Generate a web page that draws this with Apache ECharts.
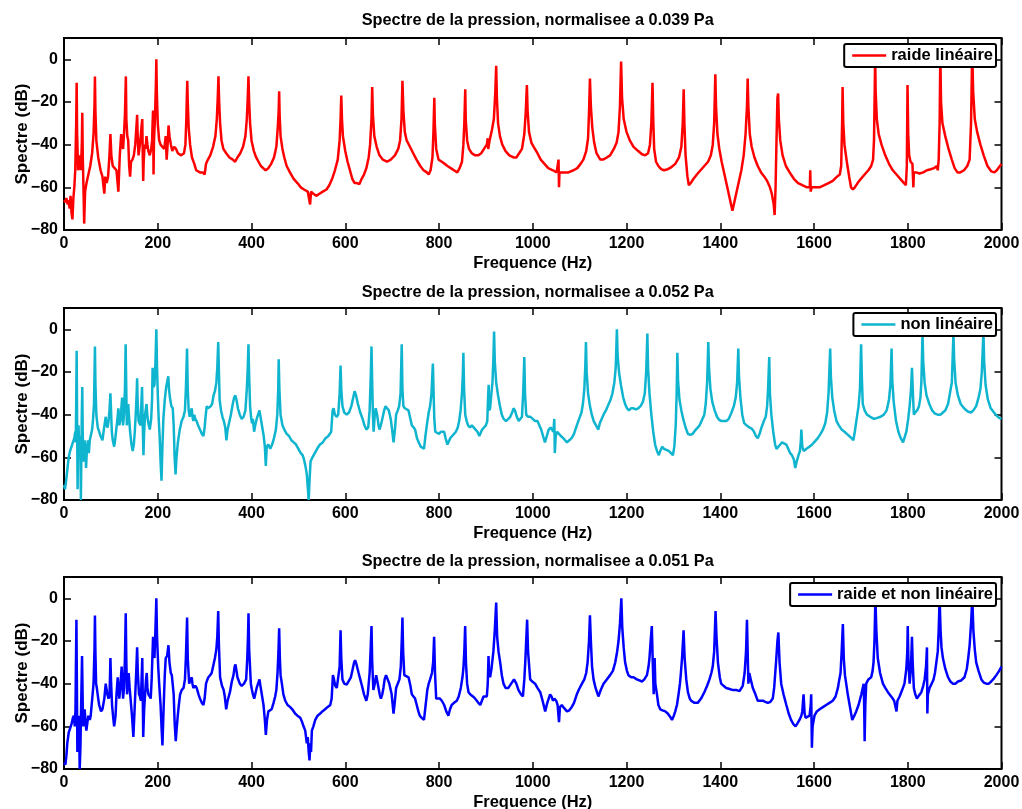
<!DOCTYPE html>
<html>
<head>
<meta charset="utf-8">
<script src="https://cdn.jsdelivr.net/npm/echarts@6/dist/echarts.min.js"></script>
<style>
html,body{margin:0;padding:0;background:#fff;}
#chart{width:1022px;height:809px;}
</style>
</head>
<body>
<div id="chart"></div>
<script>
// ---- Data (frequency Hz, spectrum dB) ----
const titles = [
  "Spectre de la pression, normalisee a 0.039 Pa",
  "Spectre de la pression, normalisee a 0.052 Pa",
  "Spectre de la pression, normalisee a 0.051 Pa"
];
const seriesNames = ["raide linéaire", "non linéaire", "raide et non linéaire"];
const xTicks = [0, 200, 400, 600, 800, 1000, 1200, 1400, 1600, 1800, 2000];
const yTicks = [-80, -60, -40, -20, 0];

const raideLineaire = [
[0,-66],[3,-67],[5,-65],[8,-68],[10,-66],[12,-70],[14,-64],[16,-72],[18,-75],[20,-65],[22,-60],[24,-52],[26,-30],[27,-11],[28,-35],[30,-52],[32,-50],[34,-45],[36,-52],[38,-40],[39,-25],[40,-45],[42,-65],[43,-77],[45,-62],[48,-58],[52,-54],[56,-50],[60,-44],[63,-35],[65,-22],[66,-8],[67,-24],[69,-38],[73,-46],[78,-52],[82,-55],[86,-63],[88,-55],[91,-58],[94,-55],[97,-45],[99,-35],[101,-45],[104,-50],[108,-51],[112,-52],[116,-62],[119,-45],[122,-35],[124,-40],[126,-42],[128,-35],[130,-26],[132,-8],[133,-28],[135,-36],[137,-38],[139,-50],[141,-55],[143,-48],[146,-47],[149,-45],[152,-40],[155,-30],[156,-26],[157,-35],[159,-45],[162,-40],[164,-35],[166,-30],[167,-28],[168,-45],[169,-57],[170,-48],[172,-40],[174,-42],[176,-36],[178,-40],[180,-43],[183,-45],[186,-42],[188,-38],[189,-30],[190,-24],[191,-54],[192,-38],[194,-28],[196,-12],[197,0],[198,-15],[200,-30],[203,-38],[206,-40],[210,-41],[214,-42],[217,-36],[219,-47],[221,-40],[223,-31],[225,-36],[228,-40],[231,-43],[235,-41],[239,-42],[243,-44],[250,-45],[256,-44],[259,-40],[261,-28],[262,-18],[263,-10],[264,-20],[266,-32],[269,-40],[273,-46],[278,-49],[282,-52],[290,-53],[296,-53],[300,-54],[303,-49],[307,-47],[312,-45],[318,-41],[323,-36],[326,-28],[328,-18],[329.5,-8],[331,-20],[333,-30],[336,-38],[340,-42],[346,-44],[353,-46],[360,-47],[365,-48],[370,-46],[376,-44],[382,-41],[387,-36],[390,-28],[392,-18],[393.5,-8],[395,-20],[397,-30],[400,-38],[405,-43],[410,-46],[415,-48],[420,-50],[425,-51],[430,-52],[436,-51],[442,-49],[448,-46],[453,-41],[456,-32],[458,-24],[459,-15],[460,-26],[462,-36],[466,-42],[470,-46],[475,-50],[482,-53],[490,-56],[498,-58],[505,-60],[512,-61],[520,-62],[523,-62],[525,-68],[527,-62],[532,-63],[538,-64],[545,-63],[552,-62],[560,-61],[566,-59],[572,-56],[578,-52],[584,-47],[588,-38],[590,-28],[591.5,-17],[593,-28],[595,-36],[600,-43],[605,-48],[610,-52],[615,-56],[620,-58],[625,-58],[630,-58.5],[635,-56],[640,-54],[645,-51],[650,-46],[653,-40],[656,-28],[657.5,-13],[659,-26],[662,-36],[667,-41],[673,-45],[680,-47],[689,-48],[697,-47],[706,-45],[713,-42],[717,-38],[720,-28],[722,-10],[724,-24],[727,-34],[731,-38],[738,-41],[745,-44],[752,-47],[760,-50],[767,-52],[774,-53],[778,-54],[782,-52],[786,-46],[788,-35],[790,-18],[791,-30],[794,-42],[799,-47],[806,-48],[812,-49],[818,-50],[825,-51],[832,-52],[839,-53],[844,-51],[849,-48],[852,-40],[854,-30],[856,-14],[857,-28],[860,-38],[864,-42],[870,-44],[877,-45],[884,-45],[890,-44],[896,-42],[902,-40],[904,-37],[905,-42],[908,-38],[913,-33],[917,-28],[920,-16],[922,-3],[923.5,-18],[926,-30],[930,-36],[935,-40],[942,-43],[950,-45],[959,-46],[965,-46],[971,-44],[977,-42],[982,-35],[985,-25],[987.5,-12],[989,-24],[992,-34],[997,-39],[1002,-41],[1010,-44],[1017,-47],[1025,-49],[1033,-51],[1043,-52],[1051,-53],[1054,-53],[1055,-47],[1056,-60],[1057,-53],[1066,-53],[1076,-53],[1087,-52],[1095,-51],[1102,-49],[1108,-47],[1114,-43],[1118,-37],[1120,-25],[1122,-9],[1124,-22],[1127,-32],[1131,-39],[1136,-44],[1144,-47],[1150,-47],[1158,-46],[1165,-45],[1173,-42],[1179,-39],[1183,-34],[1186,-22],[1188.5,-1],[1190.5,-18],[1194,-28],[1200,-34],[1207,-38],[1215,-41],[1225,-43],[1233,-44.5],[1240,-45],[1246,-44],[1250,-40],[1253,-30],[1255.5,-11],[1257,-28],[1259,-42],[1263,-48],[1268,-50],[1274,-51.5],[1280,-52],[1288,-51.5],[1296,-50.5],[1304,-49],[1312,-46],[1317,-41],[1320,-30],[1322,-14],[1323.5,-30],[1326,-45],[1330,-55],[1333,-59],[1337,-58],[1343,-56],[1350,-54],[1358,-52],[1366,-50],[1374,-48],[1380,-45],[1384,-40],[1387,-30],[1389.5,-7],[1391,-22],[1394,-35],[1398,-42],[1403,-48],[1409,-54],[1415,-60],[1420,-65],[1426,-71],[1430,-67],[1435,-62],[1440,-57],[1445,-52],[1450,-45],[1454,-35],[1457,-22],[1458.5,-9],[1460,-22],[1463,-35],[1467,-41],[1473,-46],[1480,-50],[1487,-53],[1494,-55],[1500,-57],[1506,-60],[1510,-63],[1514,-68],[1516,-73],[1518,-60],[1520,-38],[1522,-18],[1523.5,-16],[1525,-28],[1528,-38],[1533,-45],[1540,-50],[1548,-53],[1557,-56],[1566,-58],[1575,-59],[1585,-60],[1591,-60],[1592,-52],[1593,-62],[1595,-60],[1603,-60],[1612,-60],[1622,-59],[1631,-58],[1640,-57],[1649,-55],[1655,-54],[1658,-50],[1660,-30],[1661,-13],[1662.5,-30],[1665,-40],[1670,-48],[1675,-55],[1679,-60],[1683,-61],[1687,-60],[1693,-58],[1700,-56],[1708,-54],[1716,-52],[1722,-50],[1726,-47],[1728,-38],[1729.5,-15],[1730.5,2],[1731.5,-15],[1734,-28],[1738,-35],[1744,-40],[1752,-45],[1760,-49],[1768,-52],[1776,-54],[1784,-56],[1792,-58],[1796,-59],[1798,-50],[1799.5,-12],[1801,-35],[1803,-45],[1806,-48],[1810,-49],[1812,-60],[1813,-53],[1818,-53],[1825,-53.5],[1833,-53],[1841,-52],[1849,-51.5],[1856,-51],[1862,-50],[1864,-52],[1866,-47],[1868,-30],[1869.5,3],[1871,-20],[1874,-30],[1880,-36],[1887,-42],[1894,-47],[1900,-51],[1906,-53],[1912,-53],[1920,-52],[1927,-50],[1932,-47],[1935,-30],[1937.5,4],[1939.5,-15],[1943,-28],[1948,-34],[1955,-40],[1962,-45],[1970,-50],[1978,-52.5],[1985,-53],[1990,-52],[1995,-50.5],[2000,-49]
];

const nonLineaire = [
[0,-73],[2,-75],[4,-72],[7,-66],[10,-60],[13,-57],[16,-55],[19,-53],[22,-51],[24,-48],[25,-53],[26,-35],[27,-10],[28,-45],[29,-75],[30,-55],[31,-45],[32,-52],[33,-60],[34,-50],[35,-55],[36,-80],[37,-60],[38,-40],[39,-27],[40,-50],[42,-62],[44,-52],[46,-58],[47,-65],[49,-56],[51,-52],[53,-58],[55,-52],[57,-50],[60,-47],[62,-42],[64,-35],[65,-22],[66,-8],[67,-25],[69,-40],[72,-46],[75,-48],[78,-50],[82,-52],[85,-47],[87,-44],[89,-41],[91,-45],[93,-46],[95,-43],[97,-38],[99,-30],[100,-36],[102,-48],[104,-52],[107,-55],[109,-52],[112,-46],[114,-42],[116,-37],[118,-45],[120,-43],[122,-38],[124,-32],[126,-45],[128,-40],[130,-28],[131.5,-7],[133,-30],[134,-45],[136,-38],[137,-35],[139,-42],[141,-48],[144,-54],[146.5,-57],[149,-54],[151,-48],[153,-40],[155,-30],[156,-23],[157,-33],[159,-43],[161,-44],[163,-45],[165,-35],[166.5,-27],[168,-45],[169.5,-59],[171,-48],[173,-40],[176,-35],[178,-41],[180,-44],[183,-47],[186,-42],[188,-32],[189,-18],[191,-27],[193,-26],[195,-16],[197,0],[198.5,-18],[200,-30],[202,-42],[204,-50],[206,-62],[208,-71],[210,-55],[212,-42],[215,-33],[218,-27],[220,-27],[222.5,-22],[224,-28],[226,-32],[229,-36],[232,-37],[234,-45],[236,-60],[238,-68],[240,-60],[243,-53],[247,-47],[251,-43],[255,-41],[258,-38],[260,-28],[262.5,-9],[264,-28],[266,-38],[268,-41],[270,-39],[272.5,-37],[274,-41],[276,-43],[278,-40],[280,-42],[283,-43],[286,-45],[290,-47],[294,-49],[297.5,-50],[300,-46],[302,-41],[304.5,-36],[307,-37],[310,-37],[313,-36],[316,-35],[319,-31],[322,-29],[325,-25],[327,-18],[329,-6],[330.5,-20],[332,-33],[335,-38],[338,-41],[341,-43],[344,-46],[346.5,-52],[349,-47],[352,-44],[356,-40],[360,-35],[363,-32],[365.5,-31],[368,-33],[371,-37],[375,-40],[379,-42],[383,-41],[387,-38],[390,-28],[392,-18],[393.5,-7],[395,-22],[397,-36],[399,-41],[401,-44],[403,-42],[405.5,-48],[408,-45],[411,-42],[414,-40],[417,-38],[420,-42],[423,-46],[426,-50],[428.5,-55],[430.5,-64],[432.5,-55],[436,-54],[440,-56],[444,-54],[448,-51],[452,-47],[455,-40],[457,-28],[458,-14],[459.5,-28],[462,-40],[466,-45],[470,-47],[475,-49],[480,-50],[485,-52],[490,-53],[495,-54],[500,-56],[505,-58],[509,-59],[512,-61],[515,-64],[518,-68],[520,-74],[522,-80],[524,-70],[526,-62],[530,-60],[535,-58],[540,-56],[546,-54],[552,-53],[558,-51],[564,-50],[570,-48],[573,-38],[575,-37],[578,-40],[582,-41],[585,-40],[588,-30],[590,-17],[591.5,-28],[594,-36],[598,-39],[603,-40],[608,-39],[613,-36],[617,-32],[620,-29],[623,-31],[627,-35],[632,-39],[637,-42],[641,-45],[645,-47],[649,-46],[652,-38],[654,-25],[656,-8],[657.5,-25],[659,-40],[660.5,-48],[663,-40],[665,-37],[668,-40],[671,-45],[673,-47],[676,-45],[679,-42],[683,-38],[686,-36],[689,-37],[693,-38],[697,-42],[700,-47],[703,-53],[706,-47],[708.5,-40],[712,-38],[715,-36],[718,-30],[720.5,-7],[722,-28],[724,-36],[727,-37],[731,-37],[735,-38],[739,-42],[742,-45],[746,-46],[749,-47],[753,-51],[757,-53],[761,-55],[765,-55],[768,-56],[771,-50],[774,-45],[778,-39],[781,-36],[784,-30],[786,-20],[787,-16],[788.5,-30],[790,-42],[792,-48],[796,-48],[800,-49],[804,-48],[808,-48],[811,-48],[814,-51],[818,-54],[821,-54],[824,-51],[828,-50],[832,-49],[836,-48],[840,-46],[843,-43],[846,-38],[849,-30],[851,-20],[852,-11],[853.5,-28],[856,-40],[859,-43],[862,-45],[866,-46],[870,-45],[874,-45],[878,-47],[882,-48],[886,-50],[889,-50],[892,-47],[896,-46],[900,-45],[903,-43],[905,-30],[906,-26],[907,-38],[909,-37],[911,-32],[914,-25],[916,-14],[917.5,-1],[919,-15],[922,-25],[926,-31],[930,-36],[934,-40],[938,-42],[943,-43],[948,-42],[952,-41],[956,-39],[959,-37],[962,-38],[966,-41],[970,-43],[974,-43],[977,-41],[979.5,-30],[981,-20],[982,-13],[983.5,-30],[986,-40],[990,-41],[995,-41],[1000,-42],[1005,-43],[1010,-43],[1014,-45],[1018,-47],[1022,-50],[1026,-53],[1030,-50],[1034,-47],[1038,-46],[1041,-47],[1044,-48],[1046,-42],[1047,-58],[1049,-50],[1052,-48],[1056,-49],[1060,-50],[1065,-51],[1069,-52],[1073,-53],[1078,-52],[1083,-51],[1088,-49],[1094,-45],[1099,-42],[1104,-39],[1107,-35],[1110,-28],[1112,-18],[1113.5,-6],[1115,-20],[1118,-30],[1122,-36],[1126,-40],[1130,-43],[1135,-45],[1140,-47],[1143,-44],[1147,-42],[1151,-40],[1156,-38],[1162,-35],[1166,-33],[1170,-30],[1174,-25],[1177,-18],[1179.5,0],[1181,-12],[1184,-20],[1188,-26],[1193,-32],[1197,-35],[1201,-37],[1205,-38],[1210,-37],[1215,-37],[1220,-37.5],[1225,-37],[1230,-36],[1235,-34],[1239,-30],[1242,-20],[1244.5,-2],[1246,-18],[1249,-30],[1253,-40],[1257,-48],[1261,-54],[1265,-57],[1269,-59],[1272,-57],[1276,-55],[1280,-56],[1285,-56.5],[1290,-57],[1295,-58],[1299,-59],[1302,-55],[1305,-45],[1307,-30],[1308.5,-11],[1310,-24],[1313,-33],[1317,-38],[1321,-42],[1326,-46],[1331,-49],[1336,-49.5],[1341,-49],[1348,-47],[1356,-45],[1362,-42],[1366,-40],[1369,-35],[1372,-25],[1374.5,-6],[1376,-18],[1379,-28],[1383,-34],[1388,-38],[1393,-41],[1398,-42.5],[1403,-43],[1408,-43],[1413,-43],[1418,-42],[1424,-39],[1429,-36],[1433,-32],[1436,-25],[1438.5,-9],[1440,-22],[1443,-32],[1447,-40],[1451,-44],[1456,-45],[1462,-46],[1467,-46.5],[1472,-48],[1476,-50],[1480,-51],[1484,-49],[1488,-46],[1493,-43],[1497,-41],[1500,-36],[1502,-28],[1504.5,-13],[1506,-30],[1509,-40],[1513,-48],[1517,-54],[1520,-56],[1524,-56],[1528,-54],[1532,-53],[1536,-53.5],[1541,-54],[1545,-56],[1549,-58],[1553,-59],[1557,-61],[1560,-65],[1563,-62],[1567,-59],[1570,-57],[1572,-52],[1573,-47],[1575,-55],[1578,-57],[1584,-56],[1590,-55],[1596,-54],[1602,-52.5],[1608,-51],[1614,-49],[1619,-47],[1624,-44],[1628,-39],[1631,-30],[1634.5,-9],[1636,-22],[1639,-32],[1643,-38],[1648,-43],[1653,-45],[1659,-47],[1665,-48],[1670,-49],[1675,-50],[1680,-51],[1684,-52],[1687,-48],[1691,-42],[1695,-36],[1698,-28],[1700.5,-7],[1702,-22],[1704,-35],[1708,-38],[1713,-40],[1720,-41],[1728,-42],[1735,-41.5],[1742,-41],[1749,-40],[1755,-38],[1760,-33],[1763,-26],[1765.5,-9],[1767,-24],[1770,-34],[1775,-43],[1780,-48],[1785,-51],[1790,-53],[1794,-53],[1797,-48],[1801,-42],[1804,-36],[1807,-28],[1809,-18],[1811,-30],[1813,-40],[1816,-39],[1820,-38],[1824,-36],[1827,-32],[1829,-25],[1831.5,-2],[1833,-15],[1836,-25],[1840,-31],[1846,-35],[1852,-38],[1858,-39.5],[1864,-40],[1870,-40],[1875,-39],[1880,-38],[1886,-35],[1890,-30],[1894,-25],[1897.5,-2],[1899,-14],[1902,-25],[1907,-31],[1913,-35],[1920,-37],[1928,-38.5],[1935,-39],[1940,-38],[1946,-36],[1951,-32],[1955,-28],[1958,-20],[1961.5,-1],[1963,-15],[1966,-26],[1971,-33],[1977,-37],[1984,-39],[1990,-40.5],[1995,-41.5],[2000,-42]
];

const raideNonLineaire = [
[0,-77],[3,-78],[5,-74],[7,-68],[10,-63],[13,-61],[16,-59],[19,-56],[21,-55],[23,-60],[24.5,-52],[25.5,-30],[26.5,-10],[27.5,-40],[28.5,-72],[30,-58],[31,-55],[32.5,-65],[33.5,-80],[35,-70],[37,-45],[38.5,-27],[40,-50],[41,-60],[43,-55],[44,-52],[46,-58],[47.7,-62],[50,-58],[52,-55],[55,-57],[57,-55],[59,-50],[61,-45],[63,-40],[65,-24],[66,-8],[67,-25],[68.5,-40],[70,-42],[73,-47],[75,-50],[79,-53],[82,-52],[84,-52],[86,-47],[89,-40],[91,-43],[92.5,-45],[95,-47],[97,-46],[98,-38],[99,-28],[100.5,-40],[102.5,-50],[105,-56],[107,-60],[110,-55],[112,-45],[114.6,-37],[116,-42],[118,-47],[120,-42],[123,-32],[124.5,-40],[126,-47],[128,-42],[130,-28],[131.7,-7],[133,-30],[134.5,-45],[136,-40],[138,-35],[140,-42],[142,-47],[145,-55],[148,-65],[150,-55],[152,-45],[154,-35],[156,-23],[157.5,-35],[160,-45],[162,-46],[164,-48],[165.5,-38],[167,-28],[168,-45],[169,-65],[171,-52],[173,-45],[175,-38],[176.5,-35],[178,-42],[180,-45],[183,-46],[185,-47],[187,-38],[190,-18],[191.5,-25],[193,-28],[195,-15],[197,0],[198.5,-18],[201,-32],[203,-40],[206,-50],[208,-60],[210,-69],[212,-55],[213.5,-45],[215,-36],[217,-28],[220,-27],[222.8,-22],[225,-30],[227.8,-35],[230,-36],[232,-36],[234,-45],[236,-58],[238.4,-67],[240,-62],[242.7,-55],[245,-50],[247.7,-45],[251,-43],[255,-42],[258,-38],[260,-28],[262.6,-9],[264,-28],[267,-40],[270,-38],[272.6,-37],[274,-40],[276,-42],[280,-41],[283,-42],[287,-45],[290,-47],[294,-49],[297.5,-50],[300,-47],[303,-40],[306,-38],[308,-37],[312,-36],[315,-35],[319,-31],[322,-28],[325,-24],[327,-18],[329,-6],[330.5,-22],[333,-37],[337,-41],[340.6,-43],[343,-46],[346,-52],[349,-48],[354,-44],[358,-39],[361.6,-36],[364,-32],[365.8,-31],[368,-34],[370,-37],[375,-40],[379,-41],[384,-40],[388.6,-38],[391,-28],[392.5,-18],[393.6,-7],[395,-24],[398.6,-40],[401,-43],[403,-45],[405.7,-47],[408,-45],[411,-42],[414,-40],[417,-38],[419,-41],[422,-45],[425.6,-50],[428.5,-57],[430.6,-64],[433,-57],[436,-53],[440,-53],[443,-52],[447,-49],[450.5,-46],[453,-43],[455.5,-35],[457.5,-25],[459,-14],[460.5,-28],[462,-36],[464.8,-40],[468,-45],[472,-48],[477,-50],[482.6,-51],[487,-52],[493,-54],[498,-55],[504,-56],[508,-58],[511,-60],[514.6,-62],[518,-68],[520,-65],[522,-72],[523.8,-76],[525.5,-68],[527,-72],[528.8,-62],[532,-60],[536,-57],[541,-55],[546.6,-54],[551,-53],[557,-52],[562,-51],[568,-50],[571,-47],[573.7,-36],[576,-38],[578.6,-41],[582,-42],[585.8,-42],[588,-32],[590,-15],[591.5,-28],[594,-38],[598,-40],[603,-40.5],[607,-40],[612,-37],[616,-33],[619,-30],[621,-29],[624,-31],[628.5,-35],[632,-38],[635.6,-41],[640,-45],[645,-48],[648,-45],[650,-40],[652,-35],[654,-25],[656,-13],[657.5,-30],[660,-43],[663,-40],[666,-36],[668.5,-39],[671,-42],[673.5,-45],[676,-47],[679,-45],[681.5,-42],[684,-38],[687,-36],[690.5,-38],[694,-40],[697,-43],[699,-45],[703,-54],[706,-48],[708.5,-42],[712,-40],[715.6,-38],[718.5,-32],[720.5,-20],[722,-9],[723.5,-25],[726,-36],[730,-36.5],[735,-37],[739,-41],[742,-45],[745.5,-46],[749,-47],[752.5,-50],[756,-53],[759,-55],[763,-56],[768,-57],[771.5,-50],[775,-43],[778,-40],[781,-38],[785,-35],[787.5,-30],[789.6,-18],[791.5,-35],[794,-47],[798,-47],[802,-47],[806,-48],[811,-50],[815.5,-53],[820,-55],[823.5,-52],[827,-50],[832,-49],[838,-48],[842,-46],[846.5,-42],[850,-37],[852,-33],[854,-25],[855.8,-13],[857.5,-30],[860,-40],[863,-44],[866.5,-45],[870,-45],[875,-46.5],[880.7,-48],[884,-49],[888,-50],[891.5,-48],[895,-46],[898.5,-46],[902,-46],[904,-40],[905.6,-27],[907,-35],[909,-37],[912,-33],[916,-25],[919,-15],[922,-2],[924,-18],[927,-25],[930.5,-30],[934,-36],[937.6,-40],[942,-42],[948,-42],[954,-40],[960,-38],[965,-40],[969.6,-43],[975,-45],[979,-46],[982,-38],[984,-30],[986,-20],[988,-10],[990,-25],[994.5,-38],[999,-39],[1005,-40],[1010,-42],[1016,-44],[1021,-48],[1026.5,-53],[1031,-49],[1037,-45],[1040,-46],[1043,-48],[1046,-47],[1050,-48],[1053,-50],[1056,-58],[1058,-51],[1062,-50],[1067,-51.5],[1073,-53],[1078,-52.5],[1083,-51],[1088,-49],[1094,-45],[1099,-42.5],[1105,-40],[1110,-38],[1114,-35],[1117,-30],[1120,-20],[1122,-8],[1124,-20],[1126.5,-32],[1129.7,-38],[1134,-42],[1140,-46],[1145,-43],[1151,-40],[1158,-38],[1165,-36],[1171,-34],[1176,-30],[1180,-25],[1183,-20],[1186,-12],[1189,0],[1191,-14],[1194,-23],[1197,-30],[1201,-34],[1204,-36],[1210,-37],[1215,-37],[1222,-38],[1228,-38.5],[1233,-39],[1238,-38],[1243.6,-36],[1247,-32],[1249,-28],[1251.5,-20],[1254,-13],[1256,-30],[1258,-45],[1259,-38],[1260,-28],[1261.5,-40],[1265,-45],[1268,-50],[1272,-52],[1277,-52.5],[1282.7,-53],[1288,-54],[1293,-55.5],[1297,-57],[1301,-55],[1304,-53],[1307.6,-50],[1311,-45],[1314,-40],[1316,-35],[1318.5,-28],[1321.8,-15],[1324,-28],[1327.5,-38],[1331,-44],[1335,-47],[1338,-48],[1345,-49],[1352,-49],[1359,-47],[1366,-44],[1372,-41],[1377,-38],[1381,-35],[1384,-32],[1387,-25],[1390,-6],[1392,-18],[1395,-30],[1399,-37],[1402,-40],[1407,-41],[1412.6,-42],[1420,-42.5],[1427,-43],[1435,-43],[1441,-43.5],[1444.6,-44],[1448,-41],[1452,-35],[1455,-25],[1457,-10],[1459,-30],[1460,-40],[1462,-35],[1465,-38],[1469.5,-42],[1475,-45],[1480,-48],[1485,-48],[1491,-48],[1496,-48.5],[1501.5,-49],[1507,-48.5],[1512,-47],[1515,-42],[1519,-30],[1522,-20],[1524,-16],[1526.5,-30],[1530,-40],[1535,-45],[1541,-50],[1546,-54],[1551,-57],[1556,-59],[1560.6,-60],[1565,-58.5],[1569,-57],[1573,-55],[1575,-53],[1577.7,-45],[1580,-54],[1582,-56],[1586,-55.5],[1590.5,-55],[1593,-50],[1594,-45],[1595.5,-70],[1597,-60],[1601,-55],[1606,-53],[1612,-52],[1619,-51],[1626,-50],[1633,-49],[1640,-48],[1646,-46],[1651,-42],[1654,-38],[1656.6,-35],[1659,-25],[1661.6,-12],[1663.5,-28],[1666,-36],[1668.7,-40],[1672,-45],[1676,-50],[1681.6,-57],[1686,-55],[1690,-53],[1695,-50],[1701,-45],[1706,-40],[1707,-50],[1708,-67],[1709.5,-50],[1711.4,-40],[1716,-38],[1722,-37],[1725,-34],[1727,-30],[1729,-20],[1731,0],[1733,-15],[1736,-28],[1741,-35],[1747,-40],[1752,-42],[1757.7,-44],[1763,-45.5],[1768,-47],[1771,-48],[1774,-51],[1776,-53],[1778,-48],[1782.6,-46],[1788,-43],[1793,-40],[1797,-33],[1799,-25],[1800,-13],[1801.5,-30],[1804,-40],[1806,-35],[1808,-25],[1809,-18],[1810.5,-30],[1813,-42],[1816,-45],[1819.6,-47],[1824,-45.5],[1829,-44],[1833,-41],[1836,-38],[1839,-32],[1841,-23],[1841.8,-54],[1843,-45],[1846.6,-42],[1851,-40],[1855,-38],[1858,-35],[1861,-30],[1864,-25],[1866,-15],[1868,0],[1870,-15],[1872,-23],[1875,-28],[1880,-33],[1886,-37],[1891,-39],[1896,-40],[1902,-40],[1907,-39],[1914,-38.5],[1921,-37],[1926,-33],[1929,-28],[1932,-22],[1935,-12],[1937.7,0],[1940,-15],[1943,-24],[1946,-30],[1951,-34],[1957,-38],[1962,-39.5],[1967.6,-40],[1973,-40],[1978,-39],[1984,-37.5],[1989,-36],[1995,-34],[2000,-32]
];

const seriesData = [raideLineaire, nonLineaire, raideNonLineaire];
const colors = ["#ff0000", "#0fb4cf", "#0000ff"];

// ---- Layout ----
const FONT = "Liberation Sans, Arial, Helvetica, sans-serif";
const gridTops = [38, 308, 577];
const gridH = 192;
const gridLeft = 64, gridW = 937.5;
const legendTops = [44, 313, 583];
const titleTops = [8, 280, 549];

const minus = v => String(v).replace('-', '\u2212');
const plain = v => String(v);

const option = {
  animation: false,
  backgroundColor: '#fff',
  title: titles.map((t, i) => ({
    text: t, left: gridLeft + gridW / 2, top: titleTops[i], textAlign: 'center',
    textStyle: { fontFamily: FONT, fontWeight: 'bold', fontSize: 16.3, color: '#000' }
  })),
  legend: seriesNames.map((n, i) => ({
    data: [{ name: n, icon: 'rect' }],
    right: 26, top: legendTops[i],
    orient: 'vertical',
    itemWidth: 34, itemHeight: 2.5,
    padding: [3, 3, 3, 8],
    backgroundColor: '#fff', borderColor: '#000', borderWidth: 2, borderRadius: 2,
    textStyle: { fontFamily: FONT, fontWeight: 'bold', fontSize: 16.5, color: '#000' },
    selectedMode: false
  })),
  grid: gridTops.map(t => ({
    left: gridLeft, top: t, width: gridW, height: gridH,
    show: true, borderColor: '#000', borderWidth: 2, backgroundColor: 'transparent',
    containLabel: false, outerBoundsMode: 'none'
  })),
  xAxis: [],
  yAxis: [],
  series: []
};

const tickStyle = { show: true, inside: true, length: 7, lineStyle: { color: '#000', width: 1.5 } };

for (let i = 0; i < 3; i++) {
  option.xAxis.push({
    type: 'value', gridIndex: i, min: 0, max: 2000, interval: 200, position: 'bottom',
    name: 'Frequence (Hz)', nameLocation: 'middle', nameGap: 25,
    nameTextStyle: { fontFamily: FONT, fontWeight: 'bold', fontSize: 16.5, color: '#000' },
    axisLine: { show: false, onZero: false },
    axisTick: tickStyle,
    axisLabel: { fontFamily: FONT, fontWeight: 'bold', fontSize: 16, color: '#000', margin: 6,
      formatter: plain },
    splitLine: { show: false }
  });
  option.xAxis.push({
    type: 'value', gridIndex: i, min: 0, max: 2000, interval: 200, position: 'top',
    axisLine: { show: false, onZero: false },
    axisTick: tickStyle,
    axisLabel: { show: false },
    splitLine: { show: false }
  });
  option.yAxis.push({
    type: 'value', gridIndex: i, min: -80, max: 10, interval: 20, position: 'left',
    name: 'Spectre (dB)', nameLocation: 'middle', nameGap: 33, nameMoveOverlap: false,
    nameTextStyle: { fontFamily: FONT, fontWeight: 'bold', fontSize: 17, color: '#000' },
    axisLine: { show: false, onZero: false },
    axisTick: Object.assign({ customValues: yTicks }, tickStyle),
    axisLabel: { fontFamily: FONT, fontWeight: 'bold', fontSize: 16, color: '#000', margin: 6,
      customValues: yTicks, formatter: minus },
    splitLine: { show: false }
  });
  option.yAxis.push({
    type: 'value', gridIndex: i, min: -80, max: 10, interval: 20, position: 'right',
    axisLine: { show: false, onZero: false },
    axisTick: Object.assign({ customValues: yTicks }, tickStyle),
    axisLabel: { show: false },
    splitLine: { show: false }
  });
  option.series.push({
    name: seriesNames[i], type: 'line', xAxisIndex: 2 * i, yAxisIndex: 2 * i,
    data: seriesData[i], showSymbol: false, symbol: 'none', clip: true,
    lineStyle: { color: colors[i], width: 2.5 }, itemStyle: { color: colors[i] },
    emphasis: { disabled: true }, z: 2
  });
}

const chart = echarts.init(document.getElementById('chart'), null, { renderer: 'canvas' });
chart.setOption(option);
</script>
</body>
</html>
